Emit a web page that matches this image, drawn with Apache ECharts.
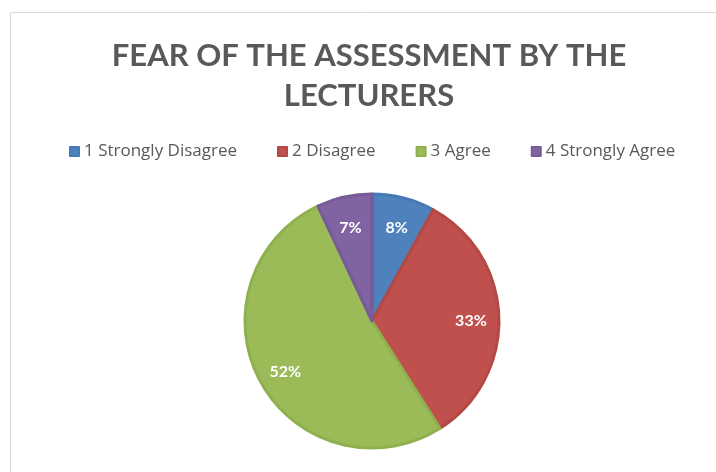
<!DOCTYPE html>
<html>
<head>
<meta charset="utf-8">
<script src="https://cdn.jsdelivr.net/npm/echarts@6/dist/echarts.min.js"></script>
<style>
    html, body { margin: 0; padding: 0; background: #fff; }
    #chart { width: 716px; height: 472px; }
</style>
</head>
<body>
<div id="chart"></div>
<script>
    // categories and share of answers (%)
    var categories = ['1 Strongly Disagree', '2 Disagree', '3 Agree', '4 Strongly Agree'];
    var shares = [8, 33, 52, 7];
    var colors = ['#4f81bd', '#c0504d', '#9bbb59', '#8064a2'];
    var edgeColors = ['#457ab6', '#b34844', '#8fb04e', '#775b98'];

    var myChart = echarts.init(document.getElementById('chart'));

    var pieData = categories.map(function (name, i) {
        return {
            name: name,
            value: shares[i],
            itemStyle: {color: colors[i], borderColor: edgeColors[i]}
        };
    });

    var titleFont = 'Lato, "Open Sans", sans-serif';
    var legendFont = '"Open Sans", Lato, sans-serif';

    var option = {
        animation: false,
        title: {
            text: 'FEAR OF THE ASSESSMENT BY THE\nLECTURERS',
            left: 364,
            textAlign: 'center',
            top: 31,
            textStyle: {
                fontFamily: titleFont,
                fontSize: 31,
                fontWeight: 'bold',
                color: '#595959',
                lineHeight: 40
            }
        },
        legend: {
            top: 138,
            left: 64,
            itemWidth: 9,
            itemHeight: 9,
            itemGap: 40,
            icon: 'rect',
            selectedMode: false,
            textStyle: {fontFamily: legendFont, fontSize: 17, color: '#595959'},
            data: categories.map(function (name, i) {
                return {name: name, itemStyle: {color: colors[i]}};
            })
        },
        graphic: [{
            type: 'rect',
            shape: {x: 10.5, y: 12.5, width: 800, height: 600},
            style: {fill: 'none', stroke: '#d9d9d9', lineWidth: 1},
            silent: true
        }],
        series: [
            {
                type: 'pie',
                center: [372, 321],
                radius: 127,
                startAngle: 90,
                clockwise: true,
                label: {show: false},
                labelLine: {show: false},
                itemStyle: {borderWidth: 3},
                emphasis: {disabled: true},
                data: pieData
            },
            {
                // transparent copy only used to put the percent labels further out
                type: 'pie',
                center: [372, 324],
                radius: 192,
                startAngle: 90,
                clockwise: true,
                silent: true,
                z: 5,
                itemStyle: {color: 'rgba(0,0,0,0)', borderWidth: 0},
                emphasis: {disabled: true},
                label: {
                    show: true,
                    position: 'inside',
                    formatter: '{c}%',
                    fontFamily: titleFont,
                    fontSize: 16,
                    fontWeight: 'bold',
                    color: '#ffffff'
                },
                labelLine: {show: false},
                data: categories.map(function (name, i) {
                    return {name: name, value: shares[i]};
                })
            }
        ]
    };

    myChart.setOption(option);
</script>
</body>
</html>
